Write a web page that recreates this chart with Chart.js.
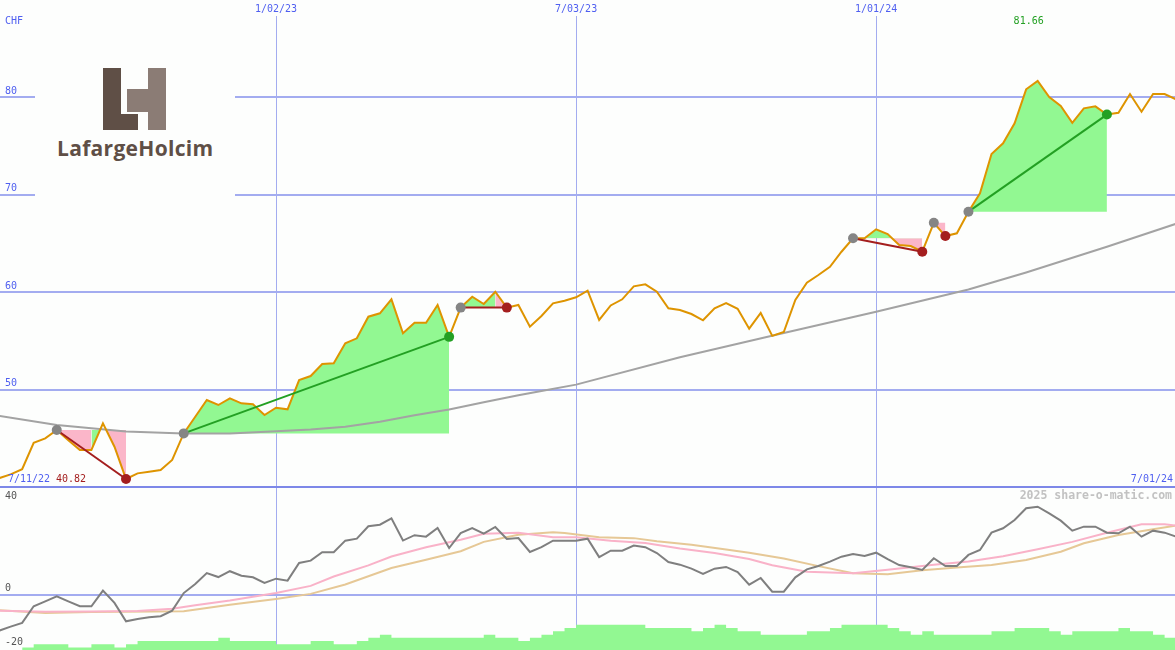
<!DOCTYPE html>
<html>
<head>
<meta charset="utf-8">
<title>LafargeHolcim - share price</title>
<script src="https://cdn.jsdelivr.net/npm/chart.js@4.4.1/dist/chart.umd.min.js"></script>
<style>
  html, body { margin: 0; padding: 0; background: #fdfefd; }
  #wrap { position: relative; width: 1175px; height: 650px; overflow: hidden; }
  #priceChart { position: absolute; left: 0; top: 0; }
  #oscChart { position: absolute; left: 0; top: 488px; }
  .logo { position: absolute; left: 35px; top: 30px; width: 200px; height: 170px; background: #fdfefd; }
  .logo .blk { position: absolute; }
  .logo .dark { background: #5f4f46; }
  .logo .light { background: #8b7c75; }
  .logo .name { position: absolute; left: 22px; top: 108px; font: 700 21px/21px 'Open Sans', sans-serif; letter-spacing: 0.3px; color: #5f4f46; white-space: nowrap; }
</style>
</head>
<body>
<div id="wrap">
  <canvas id="priceChart" width="1175" height="488"></canvas>
  <canvas id="oscChart" width="1175" height="162"></canvas>
  <div class="logo">
    <div class="blk dark" style="left:68px;top:38px;width:18px;height:62px"></div>
    <div class="blk dark" style="left:86px;top:84px;width:17px;height:16px"></div>
    <div class="blk light" style="left:113px;top:38px;width:18px;height:62px"></div>
    <div class="blk light" style="left:92px;top:59px;width:21px;height:23px"></div>
    <div class="name">LafargeHolcim</div>
  </div>
</div>
<script>
// ---- Weekly closes (CHF), week 0 = 7/11/22 ----
const price = [
  40.9, 41.3, 41.82, 44.54, 44.99, 45.85, 44.8, 43.8, 43.8, 46.53,
  44.13, 40.82, 41.4, 41.57, 41.74, 42.77, 45.5, 47.2, 48.92, 48.41,
  49.1, 48.58, 48.48, 47.38, 48.13, 47.97, 50.97, 51.38, 52.62, 52.69,
  54.74, 55.25, 57.47, 57.82, 59.25, 55.76, 56.85, 56.85, 58.67, 55.4,
  58.4, 59.52, 58.77, 60.03, 58.4, 58.67, 56.44, 57.54, 58.84, 59.11,
  59.46, 60.14, 57.13, 58.62, 59.25, 60.58, 60.79, 60.03, 58.33, 58.15,
  57.74, 57.1, 58.33, 58.87, 58.28, 56.24, 57.85, 55.5, 55.9, 59.18,
  60.95, 61.74, 62.59, 64.13, 65.51, 65.51, 66.43, 65.95, 64.82, 64.72,
  64.13, 67.1, 65.74, 66.02, 68.24, 70.12, 74.15, 75.25, 77.3, 80.79,
  81.66, 80.0, 79.08, 77.36, 78.84, 79.04, 78.2, 78.39, 80.31, 78.49,
  80.31, 80.31, 79.76
];

// long moving average (grey)
const maWeeks = [0, 5, 11, 16, 20, 24, 27, 30, 33, 36, 39, 42, 45, 47, 50, 59, 68, 76, 84, 89, 96, 102];
const maVals  = [47.3, 46.36, 45.7, 45.5, 45.5, 45.72, 45.9, 46.17, 46.7, 47.35, 47.95, 48.7, 49.4, 49.85, 50.5, 53.3, 55.8, 57.98, 60.25, 62.0, 64.65, 67.0];

// signals
const peakMarks = [5, 16, 40, 74, 81, 84];
const sellMarks = [11, 44, 80, 82];
const buyMarks  = [39, 96];
const trendStart = [5, 16, 40, 74, 84];
const trendEnd   = [11, 39, 44, 80, 96];

// lower panel
const osc = [
  -13.5, -12.0, -10.6, -4.35, -2.5, -0.6, -2.5, -4.35, -4.35, 1.5,
  -3.1, -10.0, -9.1, -8.5, -8.1, -6.0, 0.6, 4.0, 8.1, 6.6,
  8.8, 7.1, 6.5, 4.4, 6.0, 5.25, 11.9, 12.75, 15.9, 15.9,
  20.25, 21.0, 25.65, 26.25, 28.6, 20.3, 22.3, 21.75, 25.0, 17.5,
  23.1, 25.0, 22.9, 25.4, 20.9, 21.25, 16.0, 17.8, 20.25, 20.25,
  20.25, 21.0, 14.1, 16.5, 16.5, 18.4, 17.8, 15.6, 12.25, 11.25,
  9.75, 7.75, 9.75, 10.4, 8.5, 3.75, 6.25, 1.1, 1.1, 6.5,
  9.5, 10.75, 12.4, 14.25, 15.25, 14.5, 15.75, 13.3, 11.1, 10.25,
  9.25, 13.65, 10.75, 10.75, 14.9, 16.75, 23.25, 24.9, 28.0, 32.4,
  33.0, 30.5, 27.75, 24.0, 25.5, 25.5, 23.25, 23.0, 25.5, 21.75,
  24.0, 23.25, 21.75
];
const pinkWeeks = [0, 4, 8, 12, 15, 17, 20, 24, 27, 29, 32, 34, 37, 40, 42, 45, 48, 50, 53, 56, 59, 62, 65, 67, 70, 74, 77, 81, 84, 87, 90, 93, 96, 99, 101, 102];
const pinkVals  = [-6.0, -6.4, -6.3, -6.1, -5.3, -4.0, -2.2, 0.6, 3.3, 6.8, 11.0, 14.3, 17.8, 20.6, 22.8, 23.2, 21.5, 21.5, 20.2, 19.4, 17.3, 15.6, 13.4, 11.0, 8.6, 8.0, 9.3, 11.2, 12.4, 14.4, 17.0, 19.8, 23.2, 26.4, 26.4, 25.9];
const tanWeeks = [0, 4, 8, 16, 20, 24, 27, 30, 34, 37, 40, 42, 45, 48, 49, 52, 55, 57, 60, 63, 65, 68, 71, 74, 77, 80, 83, 86, 89, 92, 94, 97, 100, 102];
const tanVals  = [-5.8, -6.9, -6.5, -6.2, -3.8, -1.6, 0.3, 3.8, 10.0, 13.1, 16.3, 19.8, 22.5, 23.4, 23.1, 21.5, 21.2, 20.0, 18.7, 16.9, 15.7, 13.6, 10.7, 8.0, 7.7, 9.2, 10.2, 11.1, 13.0, 16.1, 19.3, 22.4, 24.5, 25.9];
const hist = [
  null, null, -19.8, -18.6, -18.6, -18.6, -19.8, -19.8, -18.6, -18.6,
  -19.8, -18.6, -17.4, -17.4, -17.4, -17.4, -17.4, -17.4, -17.4, -16.2,
  -17.4, -17.4, -17.4, -17.4, -18.6, -18.6, -18.6, -17.4, -17.4, -18.6,
  -18.6, -17.4, -16.2, -15.0, -16.2, -16.2, -16.2, -16.2, -16.2, -16.2,
  -16.2, -16.2, -15.0, -16.2, -16.2, -17.4, -16.2, -15.0, -13.7, -12.5,
  -11.25, -11.25, -11.25, -11.25, -11.25, -11.25, -12.5, -12.5, -12.5, -12.5,
  -13.7, -12.5, -11.25, -12.5, -13.7, -13.7, -15.0, -15.0, -15.0, -15.0,
  -13.7, -13.7, -12.5, -11.25, -11.25, -11.25, -11.25, -12.5, -13.7, -15.0,
  -13.7, -15.0, -15.0, -15.0, -15.0, -15.0, -13.7, -13.7, -12.5, -12.5,
  -12.5, -13.7, -15.0, -13.7, -13.7, -13.7, -13.7, -12.5, -13.7, -13.7,
  -15.0, -16.2, -16.2
];

// axes
const dateTicks  = [24, 50, 76];
const dateLabels = ['1/02/23', '7/03/23', '1/01/24'];
const firstLabel = '7/11/22';
const lastLabel  = '7/01/24';
const priceTicks = [40, 50, 60, 70, 80];
const oscTicks   = [40, 0, -20];

// ---- styles ----
const ORANGE = '#de9400', MA_GREY = '#a3a3a3', GRID = '#a3acf0', GRID_DARK = '#7d88e8';
const FILL_GREEN = '#92f892', FILL_PINK = '#fbb6c9', NONE = 'rgba(0,0,0,0)';
const DOT_GREY = '#858585', DOT_RED = '#a41e1e', DOT_GREEN = '#23a023';
const TXT_BLUE = '#4f5ff0', MONO = '"DejaVu Sans Mono", monospace';
const X_MIN = 0.08, X_MAX = 101.9;

const pts = (xs, ys) => xs.map((x, i) => ({ x, y: ys[i] }));
const weekIdx = price.map((_, i) => i);
const slice = (a, b) => weekIdx.slice(a, b + 1).map(i => ({ x: i, y: price[i] }));

// shaded zones between a signal's start level and the price
const zones = [
  { from: 5,  to: 8,  base: 5,  above: FILL_PINK,  below: FILL_PINK },
  { from: 8,  to: 9,  base: 5,  above: NONE,       below: FILL_GREEN },
  { from: 9,  to: 11, base: 5,  above: NONE,       below: FILL_PINK },
  { from: 16, to: 39, base: 16, above: FILL_GREEN, below: FILL_GREEN },
  { from: 40, to: 43, base: 40, above: FILL_GREEN, below: FILL_GREEN },
  { from: 43, to: 44, base: 40, above: FILL_PINK,  below: FILL_PINK },
  { from: 74, to: 80, base: 74, above: FILL_GREEN, below: FILL_PINK },
  { from: 81, to: 82, base: 81, above: FILL_PINK,  below: FILL_PINK },
  { from: 84, to: 96, base: 84, above: FILL_GREEN, below: FILL_GREEN }
];

const zoneSets = zones.map(z => ({
  data: slice(z.from, z.to),
  borderWidth: 0, pointRadius: 0, order: 5,
  fill: { target: { value: price[z.base] }, above: z.above, below: z.below }
}));

const trendSets = trendStart.map((s, k) => {
  const e = trendEnd[k];
  const c = buyMarks.includes(e) ? DOT_GREEN : DOT_RED;
  return { data: [{ x: s, y: price[s] }, { x: e, y: price[e] }], borderColor: c, borderWidth: 2, pointRadius: 0, order: 1 };
});

const dotSet = (idx, c) => ({
  data: idx.map(i => ({ x: i, y: price[i] })), showLine: false,
  pointRadius: 5, pointBackgroundColor: c, pointBorderWidth: 0, order: 0
});

const text = (ctx, s, x, y, color, align, font) => {
  ctx.save();
  ctx.font = font || '10px ' + MONO;
  ctx.fillStyle = color;
  ctx.textAlign = align || 'left';
  ctx.textBaseline = 'middle';
  ctx.fillText(s, x, y);
  ctx.restore();
};

const xAxis = {
  type: 'linear', min: X_MIN, max: X_MAX,
  afterBuildTicks: s => { s.ticks = dateTicks.map(v => ({ value: v })); },
  afterFit: s => { s.height = 0; },
  ticks: { display: false },
  grid: { color: GRID, lineWidth: 1, drawTicks: false },
  border: { display: false }
};

// ---- Upper panel: price ----
new Chart(document.getElementById('priceChart'), {
  type: 'line',
  data: {
    datasets: [
      ...zoneSets,
      { data: pts(maWeeks, maVals), borderColor: MA_GREY, borderWidth: 2, pointRadius: 0, order: 3 },
      { data: slice(0, price.length - 1), borderColor: ORANGE, borderWidth: 2, pointRadius: 0, order: 2 },
      ...trendSets,
      dotSet(peakMarks, DOT_GREY),
      dotSet(sellMarks, DOT_RED),
      dotSet(buyMarks, DOT_GREEN)
    ]
  },
  options: {
    responsive: false, animation: false, events: [], devicePixelRatio: 1,
    layout: { autoPadding: false, padding: { top: 16, bottom: 1, left: 0, right: 0 } },
    plugins: { legend: { display: false }, tooltip: { enabled: false } },
    scales: {
      x: xAxis,
      y: {
        min: 40, max: 88.31,
        afterBuildTicks: s => { s.ticks = priceTicks.map(v => ({ value: v })); },
        afterFit: s => { s.width = 0; },
        ticks: { display: false },
        grid: {
          drawTicks: false,
          color: c => c.tick.value === 40 ? GRID_DARK : GRID,
          lineWidth: c => c.tick.value === 40 ? 3 : 2
        },
        border: { display: false }
      }
    }
  },
  plugins: [{
    id: 'priceLabels',
    afterDraw(chart) {
      const { ctx, scales: { x, y } } = chart;
      dateTicks.forEach((v, k) => text(ctx, dateLabels[k], x.getPixelForValue(v), 9, TXT_BLUE, 'center'));
      text(ctx, 'CHF', 5, 21, TXT_BLUE);
      priceTicks.slice(1).forEach(v => text(ctx, String(v), 5, y.getPixelForValue(v) - 6, TXT_BLUE));
      const hi = Math.max(...price), lo = Math.min(...price);
      text(ctx, hi.toFixed(2), x.getPixelForValue(price.indexOf(hi)) - 9, 21, DOT_GREEN, 'center');
      text(ctx, firstLabel, 8, 479, TXT_BLUE);
      text(ctx, lo.toFixed(2), 56, 479, DOT_RED);
      text(ctx, lastLabel, 1173, 479, TXT_BLUE, 'right');
    }
  }]
});

// ---- Lower panel: momentum ----
new Chart(document.getElementById('oscChart'), {
  type: 'line',
  data: {
    datasets: [
      { data: slice(0, hist.length - 1).map(p => ({ x: p.x, y: hist[p.x] })), stepped: 'before', fill: 'start',
        backgroundColor: FILL_GREEN, borderWidth: 0, pointRadius: 0, order: 0 },
      { data: pts(tanWeeks, tanVals), borderColor: '#e6c896', borderWidth: 2, pointRadius: 0, order: 3 },
      { data: pts(pinkWeeks, pinkVals), borderColor: '#f9b2c8', borderWidth: 2, pointRadius: 0, order: 2 },
      { data: osc.map((v, i) => ({ x: i, y: v })), borderColor: '#7f7f7f', borderWidth: 2, pointRadius: 0, order: 1 }
    ]
  },
  options: {
    responsive: false, animation: false, events: [], devicePixelRatio: 1,
    layout: { autoPadding: false, padding: 0 },
    plugins: { legend: { display: false }, tooltip: { enabled: false } },
    scales: {
      x: xAxis,
      y: {
        min: -20.75, max: 40,
        afterBuildTicks: s => { s.ticks = [{ value: 0 }]; },
        afterFit: s => { s.width = 0; },
        ticks: { display: false },
        grid: { drawTicks: false, color: GRID, lineWidth: 2 },
        border: { display: false }
      }
    }
  },
  plugins: [{
    id: 'oscLabels',
    afterDraw(chart) {
      const { ctx, scales: { y } } = chart;
      oscTicks.forEach(v => text(ctx, String(v), 5, Math.max(8, y.getPixelForValue(v) - 6), '#555555'));
      text(ctx, '2025 share-o-matic.com', 1172, 8, '#c2c2c2', 'right', 'bold 11.5px ' + MONO);
    }
  }]
});
</script>
</body>
</html>
